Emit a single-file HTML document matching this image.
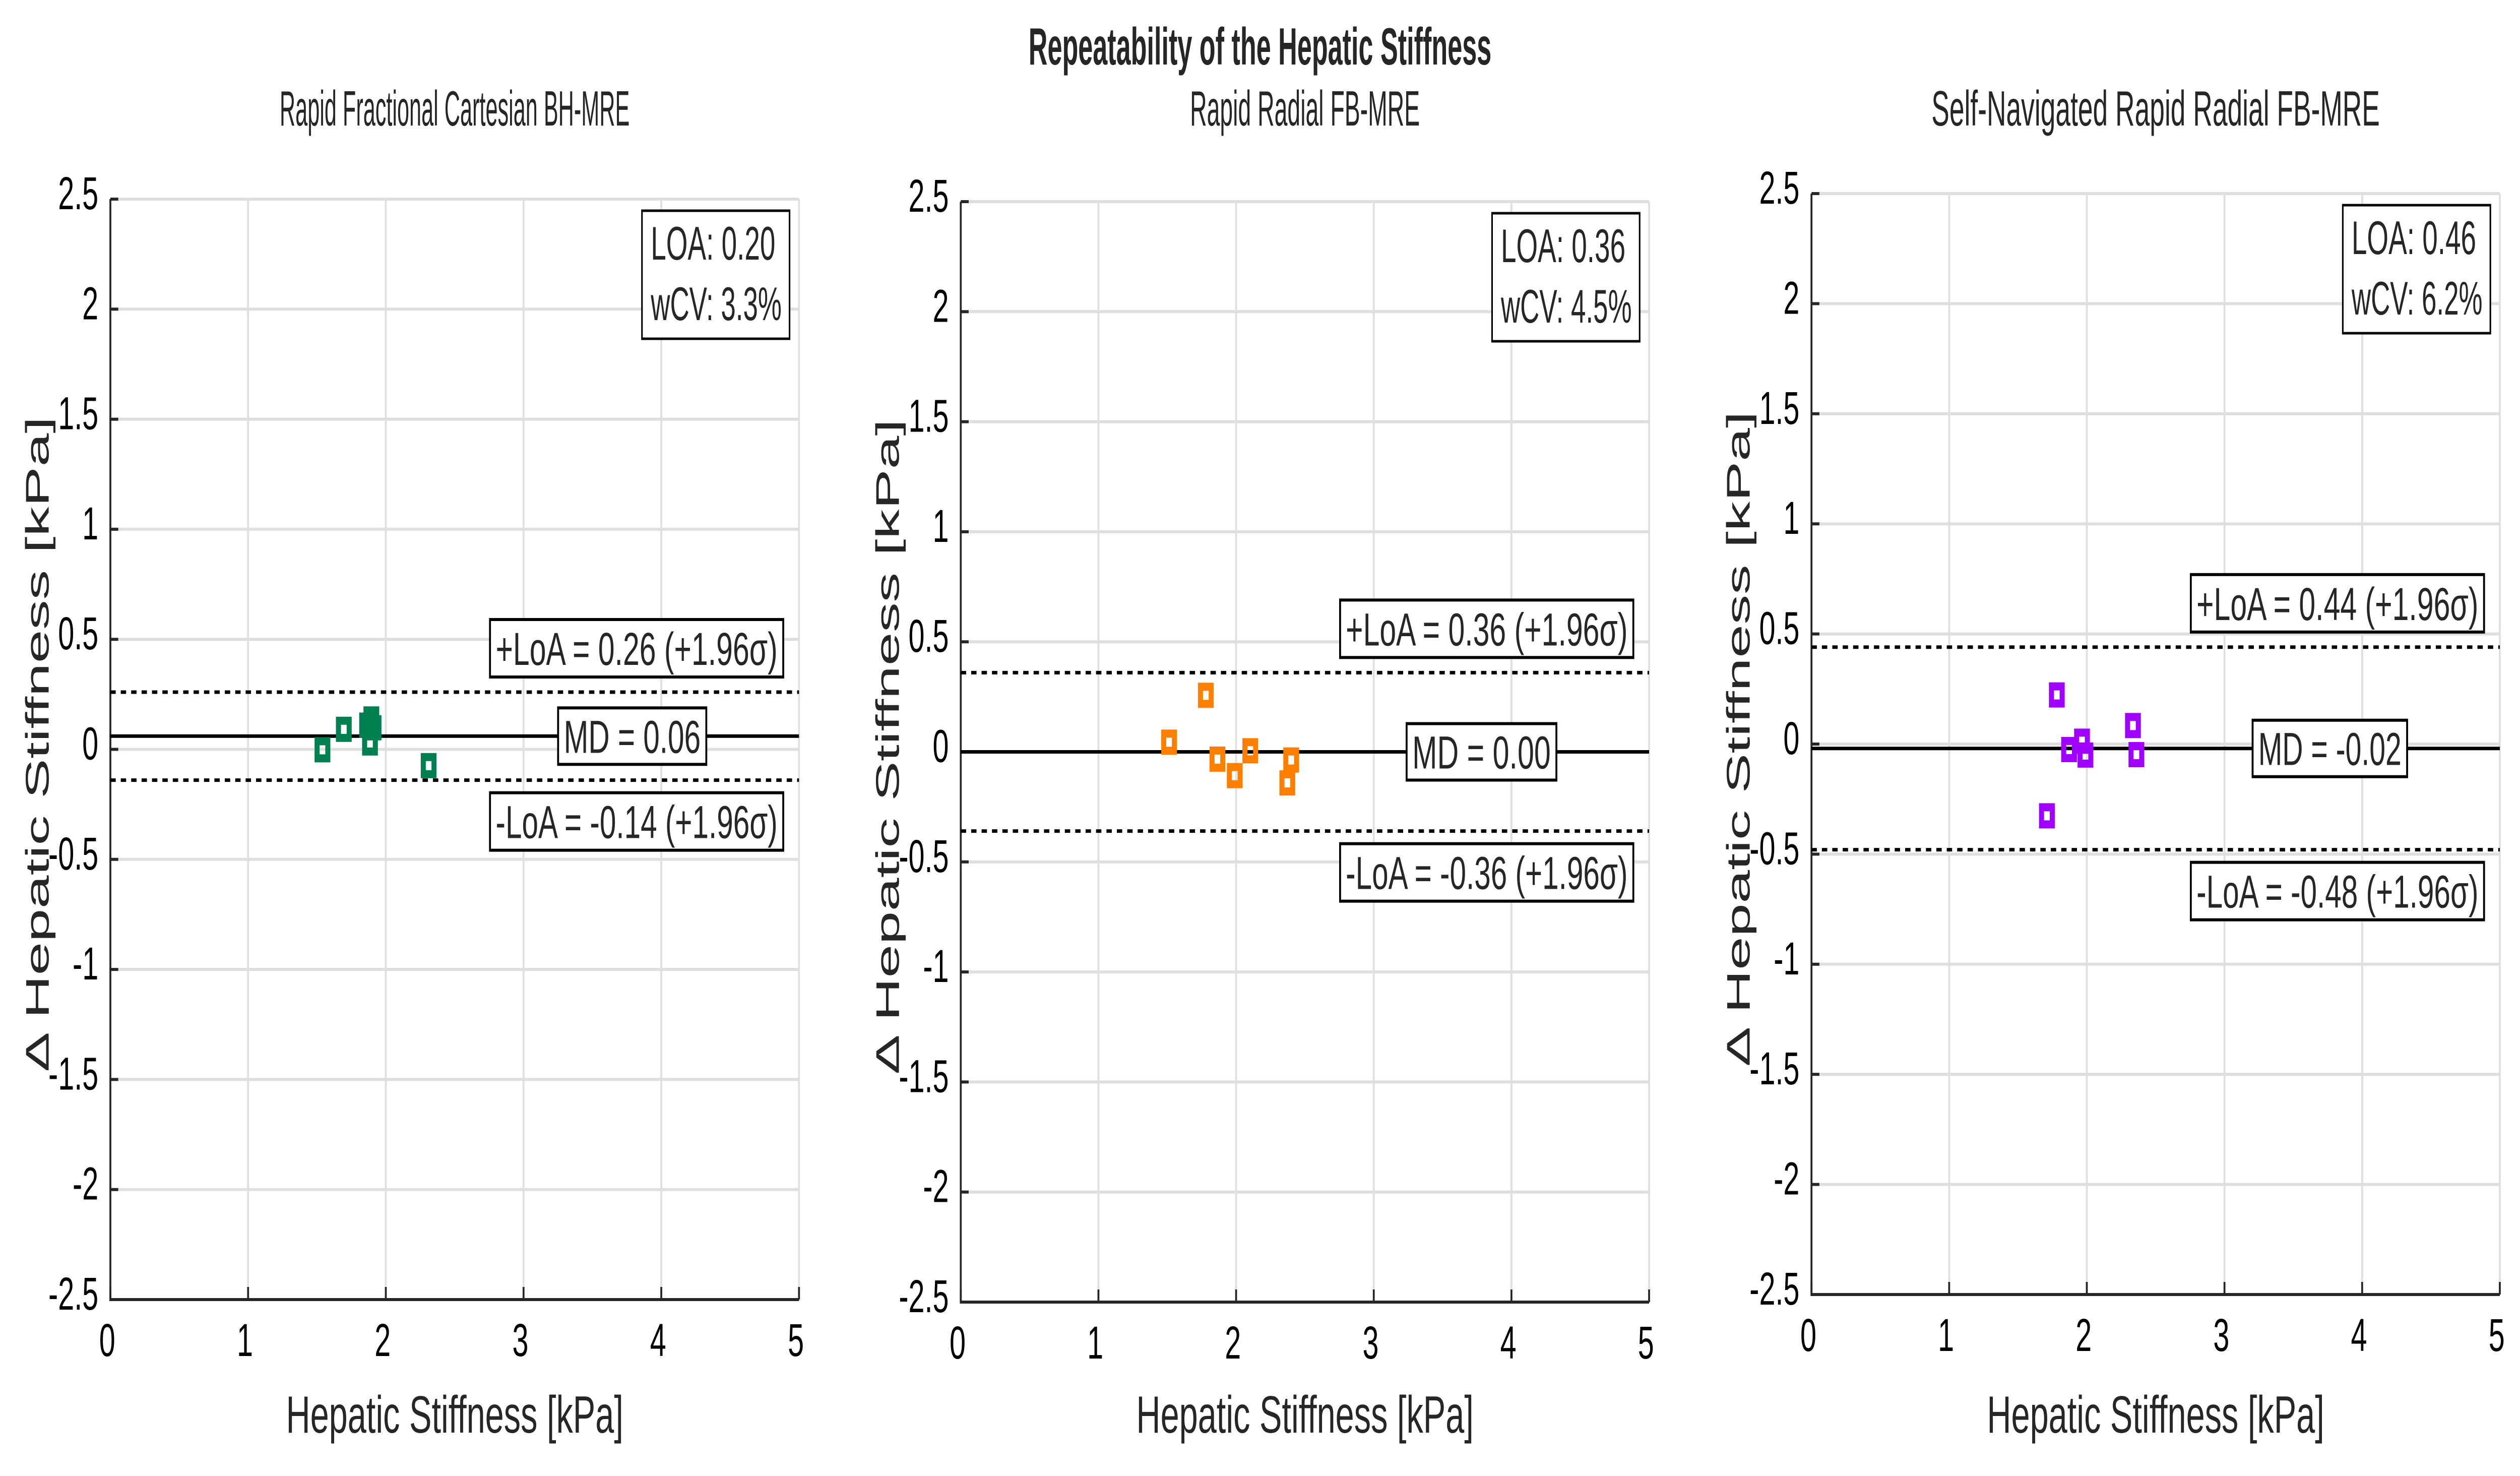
<!DOCTYPE html>
<html><head><meta charset="utf-8"><style>
html,body{margin:0;padding:0;background:#fff;overflow:hidden;width:100%;height:100%;}
svg{display:block;font-family:"Liberation Sans",sans-serif;width:100vw;height:100vh;}
</style></head><body>
<svg id="chart" xmlns="http://www.w3.org/2000/svg" viewBox="0 0 7992 2928" preserveAspectRatio="none">
<rect width="7992" height="2928" fill="#fff"/>
<text x="3996" y="128" text-anchor="middle" font-size="104" font-weight="bold" fill="#262626" textLength="1468" lengthAdjust="spacingAndGlyphs">Repeatability of the Hepatic Stiffness</text>
</svg>
<script>
// ---- data ----
const panelTitles = ["Rapid Fractional Cartesian BH-MRE","Rapid Radial FB-MRE","Self-Navigated Rapid Radial FB-MRE"];
const xTicks = [0,1,2,3,4,5];
const yTicks = [2.5,2,1.5,1,0.5,0,-0.5,-1,-1.5,-2,-2.5];
const yTickLabels = ["2.5","2","1.5","1","0.5","0","-0.5","-1","-1.5","-2","-2.5"];
const p1X = [1.54,1.695,1.895,1.864,1.911,1.885,2.311];
const p1Y = [-0.002,0.091,0.138,0.110,0.098,0.029,-0.074];
const p2X = [1.513,1.78,1.864,1.99,2.103,2.40,2.372];
const p2Y = [0.044,0.257,-0.033,-0.108,0.005,-0.037,-0.141];
const p3X = [1.782,1.71,1.871,1.965,1.99,2.335,2.36];
const p3Y = [0.223,-0.326,-0.025,0.013,-0.05,0.084,-0.048];
const meanDiff = [0.06,0.00,-0.02];
const upperLoA = [0.26,0.36,0.44];
const lowerLoA = [-0.14,-0.36,-0.48];
const mdLabels = ["MD = 0.06","MD = 0.00","MD = -0.02"];
const upLabels = ["+LoA = 0.26 (+1.96σ)","+LoA = 0.36 (+1.96σ)","+LoA = 0.44 (+1.96σ)"];
const loLabels = ["-LoA = -0.14 (+1.96σ)","-LoA = -0.36 (+1.96σ)","-LoA = -0.48 (+1.96σ)"];
const loaText = ["LOA: 0.20","LOA: 0.36","LOA: 0.46"];
const wcvText = ["wCV: 3.3%","wCV: 4.5%","wCV: 6.2%"];
// ---- layout ----
const colors = ["#008050","#ff8000","#a000ff"];
const frames = [{l:350,r:2534,t:395,b:2578},{l:3047,r:5230,t:400,b:2583},{l:5745,r:7928,t:384,b:2568}];
const titleW = [1110,729,1422];
const mdW = [470,475,490];
const svg = document.getElementById('chart');
const NS = 'http://www.w3.org/2000/svg';
function mk(tag, attrs, parent){const e=document.createElementNS(NS,tag);for(const k in attrs)e.setAttribute(k,attrs[k]);(parent||svg).appendChild(e);return e;}
const allX=[p1X,p2X,p3X], allY=[p1Y,p2Y,p3Y];
frames.forEach((f,i)=>{
  const sx=v=>f.l+(v-0)/5*(f.r-f.l);
  const sy=v=>f.t+(2.5-v)/5*(f.b-f.t);
  const g=mk('g',{});
  
  
  xTicks.forEach(v=>{const ln=mk('line',{x1:sx(v),x2:sx(v),y1:f.t,y2:f.b,stroke:'#dfdfdf','stroke-width':6},g);
    
    });
  yTicks.forEach(v=>{const ln=mk('line',{x1:f.l,x2:f.r,y1:sy(v),y2:sy(v),stroke:'#dfdfdf','stroke-width':6},g);
    
    });
  const ax=mk('path',{d:`M${f.l},${f.t}V${f.b}H${f.r}`,fill:'none',stroke:'#262626','stroke-width':6},g);
  
  
  xTicks.forEach(v=>{const tk=mk('line',{x1:sx(v),x2:sx(v),y1:f.b,y2:f.b-25,stroke:'#262626','stroke-width':6},g);
    
    
    const t=mk('text',{x:sx(v)-10,y:f.b+112,'text-anchor':'middle','font-size':92,fill:'#000'},g);t.textContent=String(v);
    
    });
  yTicks.forEach((v,j)=>{const tk=mk('line',{x1:f.l,x2:f.l+25,y1:sy(v),y2:sy(v),stroke:'#262626','stroke-width':6},g);
    
    
    const t=mk('text',{x:f.l-38,y:sy(v)+20,'text-anchor':'end','font-size':92,fill:'#000'},g);t.textContent=yTickLabels[j];
    
    });
  const md=mk('line',{x1:f.l,x2:f.r,y1:sy(meanDiff[i]),y2:sy(meanDiff[i]),stroke:'#000','stroke-width':7},g);
  
  
  [[upperLoA[i],'upper-loa-line'],[lowerLoA[i],'lower-loa-line']].forEach(([v,n])=>{
    const ln=mk('line',{x1:f.l,x2:f.r,y1:sy(v),y2:sy(v),stroke:'#000','stroke-width':7,'stroke-dasharray':'17 16'},g);
    
    });
  allX[i].forEach((xv,k)=>{const r=mk('rect',{x:sx(xv)-17,y:sy(allY[i][k])-17,width:34,height:34,fill:'none',stroke:colors[i],'stroke-width':16},g);
    
    });
  function box(x1,y1,w,h,txt,name){const bg=mk('g',{},g);
    
    
    mk('rect',{x:x1,y:y1,width:w,height:h,fill:'#fff',stroke:'#000','stroke-width':6},bg);
    const t=mk('text',{x:x1+w/2,y:y1+h/2+33,'text-anchor':'middle','font-size':92,fill:'#262626',textLength:w-36,lengthAdjust:'spacingAndGlyphs'},bg);t.textContent=txt;}
  box(f.r-50-930,sy(upperLoA[i])-30-114,930,114,upLabels[i],'upper-loa-label');
  box(f.r-50-930,sy(lowerLoA[i])+25,930,114,loLabels[i],'lower-loa-label');
  box(f.r-294-mdW[i],sy(meanDiff[i])-56,mdW[i],112,mdLabels[i],'md-label');
  const sb=mk('g',{},g);
  
  
  mk('rect',{x:f.r-30-468,y:f.t+23,width:468,height:254,fill:'#fff',stroke:'#000','stroke-width':5},sb);
  const t1=mk('text',{x:f.r-30-468+28,y:f.t+120,'font-size':94,fill:'#262626',textLength:395,lengthAdjust:'spacingAndGlyphs'},sb);t1.textContent=loaText[i];
  const t2=mk('text',{x:f.r-30-468+28,y:f.t+240,'font-size':94,fill:'#262626',textLength:415,lengthAdjust:'spacingAndGlyphs'},sb);t2.textContent=wcvText[i];
  const cx=(f.l+f.r)/2;
  const tt=mk('text',{x:cx,y:249,'text-anchor':'middle','font-size':98,fill:'#262626',textLength:titleW[i],lengthAdjust:'spacingAndGlyphs'});tt.textContent=panelTitles[i];
  
  
  const xl=mk('text',{x:cx,y:2842,'text-anchor':'middle','font-size':104,fill:'#262626',textLength:1070,lengthAdjust:'spacingAndGlyphs'});xl.textContent='Hepatic Stiffness [kPa]';
  
  
  const yx=f.l-232, yy=(f.t+f.b)/2-10;
  const yl=mk('text',{x:yx,y:yy,'text-anchor':'middle','font-size':104,fill:'#262626',transform:`rotate(-90 ${yx} ${yy}) translate(0 36)`,textLength:1300,lengthAdjust:'spacingAndGlyphs'});yl.textContent='Δ Hepatic Stiffness [kPa]';
  
  
});
</script>
</body></html>
